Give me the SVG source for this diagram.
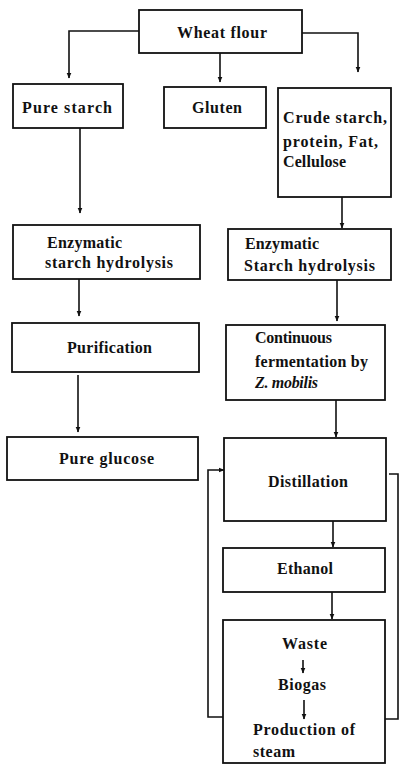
<svg xmlns="http://www.w3.org/2000/svg" width="399" height="774" viewBox="0 0 399 774">
<defs>
<marker id="ah" markerWidth="6" markerHeight="8" refX="5.5" refY="4" orient="auto" markerUnits="userSpaceOnUse">
<path d="M0,1.5 L6,4 L0,6.5 Z" fill="#111"/>
</marker>
</defs>
<style>
.box{fill:#fff;stroke:#111;stroke-width:1.8}
.t{font-family:"Liberation Serif","Times New Roman",serif;font-size:16px;font-weight:bold;fill:#111}
.ln{fill:none;stroke:#111;stroke-width:1.6}
.ar{marker-end:url(#ah)}
</style>
<rect width="399" height="774" fill="#fff"/>
<g id="connectors">
<polyline class="ln ar" points="139,31 69,31 69,78"/>
<line class="ln ar" x1="220" y1="53" x2="220" y2="82"/>
<polyline class="ln ar" points="302,33 358,33 358,72"/>
<line class="ln ar" x1="80" y1="128" x2="80" y2="213"/>
<line class="ln ar" x1="342" y1="197" x2="342" y2="228"/>
<line class="ln ar" x1="79" y1="279" x2="79" y2="316"/>
<line class="ln ar" x1="337" y1="280" x2="337" y2="321"/>
<line class="ln ar" x1="78" y1="375" x2="78" y2="432"/>
<line class="ln ar" x1="336" y1="400" x2="336" y2="437"/>
<line class="ln ar" x1="333" y1="521" x2="333" y2="547"/>
<line class="ln ar" x1="332" y1="592" x2="332" y2="619"/>
<polyline class="ln ar" points="223,717 208,717 208,470 224,470"/>
<polyline class="ln" points="385,719 398,719 398,474 389,474"/>
</g>
<g id="wheat-flour">
<rect class="box" x="139" y="10" width="163" height="43"/>
<text class="t" x="177" y="38" textLength="90" lengthAdjust="spacing">Wheat flour</text>
</g>
<g id="pure-starch">
<rect class="box" x="13" y="84" width="110" height="44"/>
<text class="t" x="22" y="113" textLength="90" lengthAdjust="spacing">Pure starch</text>
</g>
<g id="gluten">
<rect class="box" x="164" y="87" width="102" height="41"/>
<text class="t" x="192" y="113" textLength="50" lengthAdjust="spacing">Gluten</text>
</g>
<g id="crude-starch">
<rect class="box" x="278" y="88" width="113" height="109"/>
<text class="t" x="283" y="123" textLength="104" lengthAdjust="spacing">Crude starch,</text>
<text class="t" x="283" y="147" textLength="95" lengthAdjust="spacing">protein, Fat,</text>
<text class="t" x="283" y="167" textLength="63" lengthAdjust="spacing">Cellulose</text>
</g>
<g id="hydrolysis-left">
<rect class="box" x="13" y="225" width="187" height="54"/>
<text class="t" x="47" y="248" textLength="75" lengthAdjust="spacing">Enzymatic</text>
<text class="t" x="45" y="268" textLength="128" lengthAdjust="spacing">starch hydrolysis</text>
</g>
<g id="hydrolysis-right">
<rect class="box" x="228" y="229" width="163" height="51"/>
<text class="t" x="245" y="249" textLength="74" lengthAdjust="spacing">Enzymatic</text>
<text class="t" x="244" y="271" textLength="131" lengthAdjust="spacing">Starch hydrolysis</text>
</g>
<g id="purification">
<rect class="box" x="12" y="323" width="187" height="49"/>
<text class="t" x="67" y="353" textLength="85" lengthAdjust="spacing">Purification</text>
</g>
<g id="pure-glucose">
<rect class="box" x="7" y="437" width="191" height="43"/>
<text class="t" x="59" y="464" textLength="95" lengthAdjust="spacing">Pure glucose</text>
</g>
<g id="fermentation">
<rect class="box" x="226" y="325" width="159" height="75"/>
<text class="t" x="255" y="343" textLength="77" lengthAdjust="spacing">Continuous</text>
<text class="t" x="255" y="367" textLength="113" lengthAdjust="spacing">fermentation by</text>
<text class="t" x="255" y="388" font-style="italic" textLength="63" lengthAdjust="spacing">Z. mobilis</text>
</g>
<g id="distillation">
<rect class="box" x="224" y="438" width="162" height="83"/>
<text class="t" x="268" y="487" textLength="80" lengthAdjust="spacing">Distillation</text>
</g>
<g id="ethanol">
<rect class="box" x="223" y="548" width="162" height="44"/>
<text class="t" x="277" y="574" textLength="56" lengthAdjust="spacing">Ethanol</text>
</g>
<g id="waste">
<rect class="box" x="223" y="620" width="162" height="143"/>
<text class="t" x="282" y="649" textLength="45" lengthAdjust="spacing">Waste</text>
<line class="ln ar" x1="303" y1="660" x2="303" y2="673"/>
<text class="t" x="278" y="690" textLength="48" lengthAdjust="spacing">Biogas</text>
<line class="ln ar" x1="304" y1="700" x2="304" y2="719"/>
<text class="t" x="253" y="735" textLength="102" lengthAdjust="spacing">Production of</text>
<text class="t" x="253" y="757" textLength="42" lengthAdjust="spacing">steam</text>
</g>
</svg>
